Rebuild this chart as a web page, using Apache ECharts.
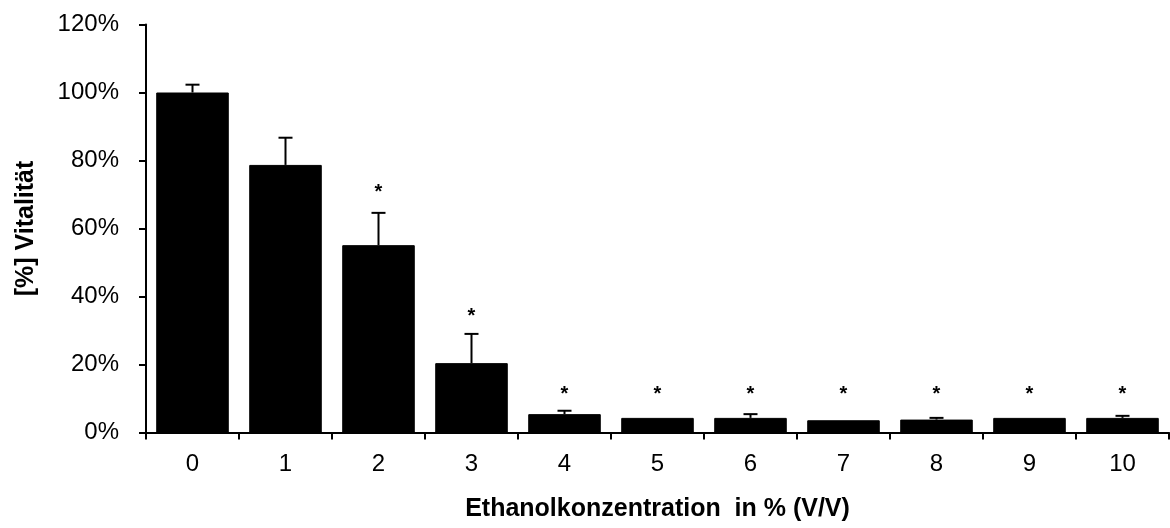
<!DOCTYPE html>
<html>
<head>
<meta charset="utf-8">
<script src="https://cdn.jsdelivr.net/npm/echarts@6/dist/echarts.min.js"></script>
<style>html,body{margin:0;padding:0;background:#fff}#c{width:1170px;height:528px}</style>
</head>
<body>
<div id="c"></div>
<script>
var categories = ['0','1','2','3','4','5','6','7','8','9','10'];
var vitality = [100, 78.7, 55.1, 20.4, 5.4, 4.3, 4.3, 3.6, 3.8, 4.3, 4.3];
var errorTop = [102.3, 86.7, 64.6, 29.0, 6.4, null, 5.4, null, 4.3, null, 4.9];
var starLevel = [null, null, 71.3, 34.6, 11.9, 11.9, 11.9, 11.9, 11.9, 11.9, 11.9];
var yTicks = [0, 20, 40, 60, 80, 100, 120];

var chart = echarts.init(document.getElementById('c'));
var font = 'Liberation Sans, Arial, sans-serif';
chart.setOption({
  animation: false,
  grid: {left: 146, right: 1, top: 24.5, bottom: 95.5, containLabel: false},
  xAxis: {
    type: 'category', data: categories,
    axisLine: {lineStyle: {color: '#000', width: 2}},
    axisTick: {show: true, length: 7, lineStyle: {color: '#000', width: 2}},
    axisLabel: {color: '#000', fontFamily: font, fontSize: 24, margin: 20},
    name: 'Ethanolkonzentration  in % (V/V)', nameLocation: 'middle', nameGap: 64,
    nameTextStyle: {color: '#000', fontFamily: font, fontSize: 25, fontWeight: 'bold'}
  },
  yAxis: {
    type: 'value', min: yTicks[0], max: yTicks[yTicks.length-1], interval: 20,
    splitLine: {show: false},
    axisLine: {show: true, lineStyle: {color: '#000', width: 2}},
    axisTick: {show: true, inside: false, length: 7, lineStyle: {color: '#000', width: 2}},
    axisLabel: {color: '#000', fontFamily: font, fontSize: 24, margin: 27, formatter: '{value}%'},
    name: '[%] Vitalität', nameLocation: 'middle', nameGap: 107, nameRotate: 90,
    nameTextStyle: {color: '#000', fontFamily: font, fontSize: 25, fontWeight: 'bold'}
  },
  series: [
    {
      type: 'bar', data: vitality, barCategoryGap: '22%',
      itemStyle: {color: '#000', borderColor: '#000', borderWidth: 1}
    },
    {
      type: 'custom', z: 3,
      data: vitality.map(function(v, i){ return [i, v, errorTop[i]]; }),
      renderItem: function(params, api){
        var e = api.value(2);
        if (e === null || isNaN(e)) return null;
        var b = api.coord([api.value(0), api.value(1)]);
        var t = api.coord([api.value(0), e]);
        return {type: 'group', children: [
          {type: 'line', shape: {x1: b[0], y1: b[1], x2: t[0], y2: t[1]}, style: {stroke: '#000', lineWidth: 2}},
          {type: 'line', shape: {x1: t[0]-7, y1: t[1], x2: t[0]+7, y2: t[1]}, style: {stroke: '#000', lineWidth: 2}}
        ]};
      }
    },
    {
      type: 'custom', z: 4,
      data: starLevel.map(function(v, i){ return [i, v]; }),
      renderItem: function(params, api){
        var v = api.value(1);
        if (v === null || isNaN(v)) return null;
        var p = api.coord([api.value(0), v]);
        return {type: 'text', x: p[0], y: p[1] + 2, style: {text: '*', fill: '#000', font: 'bold 20px ' + font, align: 'center', verticalAlign: 'middle'}};
      }
    }
  ]
});
</script>
</body>
</html>
